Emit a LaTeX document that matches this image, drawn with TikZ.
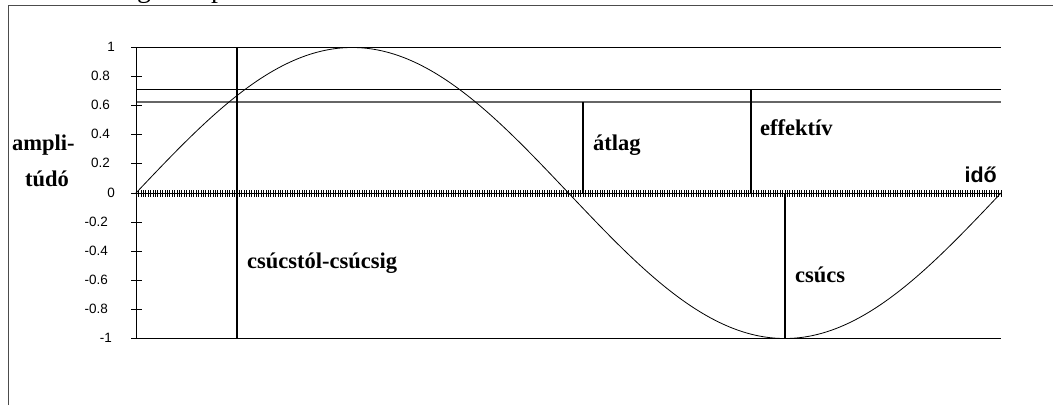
\documentclass[tikz,border=0pt]{standalone}
\usepackage{fontspec}
\setmainfont{Liberation Serif}
\newfontfamily\arialfont{Liberation Sans}
\tikzset{
  frameline/.style={draw=gray!60!black, line width=1pt},
  gridline/.style={draw=black, line width=0.9pt},
  greyline/.style={draw=black!60, line width=1.3pt},
  marker/.style={draw=black, line width=2pt},
  curve/.style={draw=black, line width=0.8pt},
  tickmark/.style={draw=black, line width=0.9pt},
  hatch/.style={draw=black, line width=0.45pt},
  ylabel/.style={anchor=base east, inner sep=0pt, font=\arialfont\fontsize{13.5}{16}\selectfont},
  bigword/.style={anchor=base west, inner sep=0pt, font=\bfseries\fontsize{22.5}{27}\selectfont},
  titletext/.style={anchor=base west, inner sep=0pt, font=\fontsize{28}{32}\selectfont}
}
\begin{document}
\begin{tikzpicture}[x=1pt,y=-1pt]
\useasboundingbox (0,0) rectangle (1053,405);
% heading above the frame, only its descenders reach the page
\node[titletext] (ht1) at (137,-2.5) {g};
\node[titletext] (ht2) at (211,-2.5) {p};
% frame
\draw[frameline] (8,405) -- (8,5) -- (1053,5);
% reference levels
\coordinate (L1a) at (136,47);   \coordinate (L1b) at (1001,47);
\coordinate (Lea) at (136,89.5); \coordinate (Leb) at (1001,89.5);
\coordinate (Laa) at (136,102);  \coordinate (Lab) at (1001,102);
\coordinate (Lma) at (136,338);  \coordinate (Lmb) at (1001,338);
\coordinate (X0) at (136,193);   \coordinate (X1) at (1001,193);
\draw[gridline] (L1a) -- (L1b);
\draw[gridline] (Lea) -- (Leb);
\draw[greyline] (Laa) -- (Lab);
\draw[gridline] (Lma) -- (Lmb);
% y axis with ticks and labels
\draw[gridline] (L1a) -- (Lma);
\foreach \k in {-5,...,5} {
  \draw[tickmark] (131,{193-\k*29.1}) -- (142,{193-\k*29.1});
}
\node[ylabel] (y10) at (115,{193-5*29.1+4}) {1};
\node[ylabel] (y08) at (110,{193-4*29.1+4}) {0.8};
\node[ylabel] (y06) at (110,{193-3*29.1+4}) {0.6};
\node[ylabel] (y04) at (110,{193-2*29.1+4}) {0.4};
\node[ylabel] (y02) at (110,{193-1*29.1+4}) {0.2};
\node[ylabel] (y00) at (115,{193+4}) {0};
\node[ylabel] (ym02) at (108,{193+1*29.1+4}) {-0.2};
\node[ylabel] (ym04) at (108,{193+2*29.1+4}) {-0.4};
\node[ylabel] (ym06) at (108,{193+3*29.1+4}) {-0.6};
\node[ylabel] (ym08) at (108,{193+4*29.1+4}) {-0.8};
\node[ylabel] (ym10) at (112,{193+5*29.1+4}) {-1};
% time axis with dense hatch
\draw[gridline] (X0) -- (X1);
\foreach \i in {0,...,360} {
  \draw[hatch] ({136+\i*2.40278},190) -- ({136+\i*2.40278},196.5);
}
% sine wave
\draw[curve] plot[domain=0:360, samples=181, smooth] ({136+\x*2.40278},{193-145.5*sin(\x)});
% marker lines
\coordinate (pp1) at (237,47);  \coordinate (pp2) at (237,338);
\coordinate (av1) at (583,102); \coordinate (av2) at (583,193);
\coordinate (ef1) at (751,89.5);\coordinate (ef2) at (751,193);
\coordinate (pk1) at (785,193); \coordinate (pk2) at (785,338);
\draw[marker] (pp1) -- (pp2);
\draw[marker] (av1) -- (av2);
\draw[marker] (ef1) -- (ef2);
\draw[marker] (pk1) -- (pk2);
% labels
\node[bigword] (amp1) at (12,150) {ampli-};
\node[bigword] (amp2) at (25,186) {túdó};
\node[bigword] (atl) at (593,150) {átlag};
\node[bigword] (eff) at (760,135) {effektív};
\node[bigword] (cc) at (247,268) {csúcstól-csúcsig};
\node[bigword] (cs) at (795,282) {csúcs};
\node[anchor=base east, inner sep=0pt, font=\arialfont\bfseries\fontsize{21.5}{25}\selectfont] (ido) at (997,182) {idő};
\end{tikzpicture}
\end{document}
